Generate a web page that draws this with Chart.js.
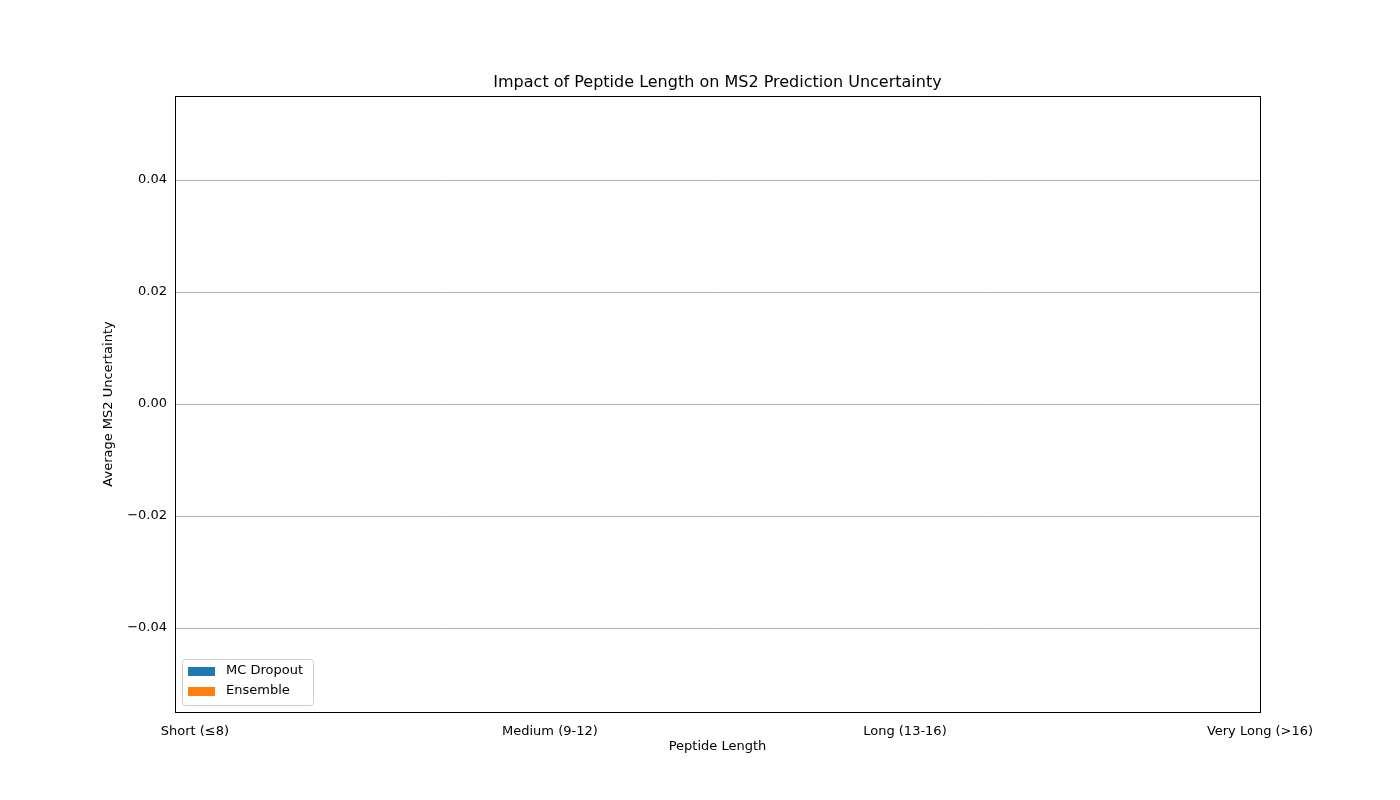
<!DOCTYPE html>
<html>
<head>
<meta charset="utf-8">
<script src="https://cdn.jsdelivr.net/npm/chart.js@4"></script>
<style>
  body { margin: 0; background: #fff; }
  #wrap { width: 1400px; height: 800px; }
</style>
</head>
<body>
<div id="wrap"><canvas id="chart" width="1400" height="800"></canvas></div>
<script>
"use strict";
// categories and series (all empty in the source figure)
const CATEGORIES = ["Short (\u22648)", "Medium (9-12)", "Long (13-16)", "Very Long (>16)"];
const MC_DROPOUT = [0, 0, 0, 0];
const ENSEMBLE = [0, 0, 0, 0];
const Y_TICKS = [-0.04, -0.02, 0, 0.02, 0.04];
const SERIES_NAMES = ["MC Dropout", "Ensemble"];
const SERIES_COLORS = ["#1f77b4", "#ff7f0e"];
const FONT = "'DejaVu Sans', sans-serif";

// draw title, axis titles, frame and the legend box the matplotlib way
const decor = {
  id: "decor",
  afterDraw(chart) {
    let ctx = chart.ctx;
    let a = chart.chartArea;
    ctx.save();
    ctx.strokeStyle = "#000";
    ctx.lineWidth = 1;
    ctx.strokeRect(a.left + 0.5, a.top + 0.5, a.right - a.left, a.bottom - a.top);
    ctx.fillStyle = "#000";
    ctx.font = "16px " + FONT;
    ctx.textAlign = "center";
    ctx.textBaseline = "bottom";
    ctx.fillText("Impact of Peptide Length on MS2 Prediction Uncertainty", (a.left + a.right) / 2, a.top - 5);
    ctx.font = "13px " + FONT;
    ctx.textBaseline = "middle";
    ctx.fillText("Peptide Length", (a.left + a.right) / 2, 747);
    ctx.save();
    ctx.translate(109, (a.top + a.bottom) / 2);
    ctx.rotate(-Math.PI / 2);
    ctx.fillText("Average MS2 Uncertainty", 0, 0);
    ctx.restore();
    // legend
    let lx = a.left + 7, ly = a.bottom - 53;
    ctx.fillStyle = "rgba(255,255,255,0.8)";
    ctx.strokeStyle = "#ccc";
    ctx.beginPath();
    ctx.roundRect(lx + 0.5, ly + 0.5, 131, 46, 3);
    ctx.fill();
    ctx.stroke();
    ctx.textAlign = "left";
    SERIES_NAMES.forEach((name, i) => {
      let y = ly + 12 + i * 20;
      ctx.fillStyle = SERIES_COLORS[i];
      ctx.fillRect(lx + 6, y - 4, 27, 9);
      ctx.fillStyle = "#000";
      ctx.fillText(name, lx + 44, y);
    });
    ctx.restore();
  }
};

new Chart(document.getElementById("chart"), {
  type: "bar",
  data: {
    datasets: [
      { label: SERIES_NAMES[0], data: MC_DROPOUT.map((v, i) => ({ x: i, y: v })),
        backgroundColor: SERIES_COLORS[0], barPercentage: 0.35 },
      { label: SERIES_NAMES[1], data: ENSEMBLE.map((v, i) => ({ x: i + 0.35, y: v })),
        backgroundColor: SERIES_COLORS[1], barPercentage: 0.35 }
    ]
  },
  plugins: [decor],
  options: {
    responsive: false,
    animation: false,
    layout: { padding: { top: 96, right: 140, left: 0, bottom: 0 } },
    plugins: { legend: { display: false }, tooltip: { enabled: false } },
    scales: {
      x: {
        type: "linear",
        offset: false,
        min: -0.056,
        max: 3,
        afterBuildTicks: s => { s.ticks = CATEGORIES.map((_, i) => ({ value: i })); },
        afterFit: s => { s.height = 88; },
        grid: { display: false, offset: false },
        border: { display: false },
        ticks: {
          color: "#000",
          font: { family: FONT, size: 13 },
          maxRotation: 0,
          padding: 4,
          callback: v => CATEGORIES[v]
        }
      },
      y: {
        min: -0.055,
        max: 0.055,
        afterBuildTicks: s => { s.ticks = Y_TICKS.map(v => ({ value: v })); },
        afterFit: s => { s.width = 175; },
        grid: { color: "#b0b0b0", drawTicks: false },
        border: { display: false },
        ticks: {
          color: "#000",
          font: { family: FONT, size: 13 },
          padding: 8,
          callback: v => (v < 0 ? "\u2212" : "") + Math.abs(v).toFixed(2)
        }
      }
    }
  }
});
</script>
</body>
</html>
